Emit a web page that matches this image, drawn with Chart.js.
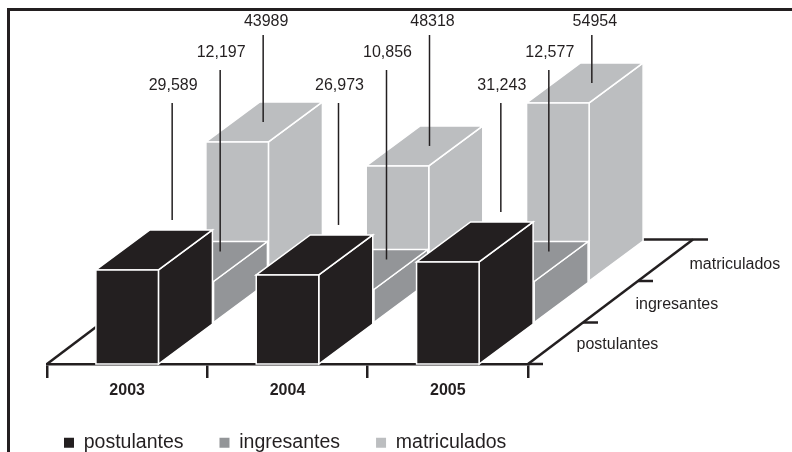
<!DOCTYPE html>
<html>
<head>
<meta charset="utf-8">
<style>
  html, body { margin: 0; padding: 0; background: #fff; }
  #marco { position: absolute; left: 7px; top: 8px; width: 785px; height: 444px; box-sizing: border-box;
           border-left: 3px solid #231f20; border-top: 3px solid #231f20; }
  canvas { position: absolute; left: 0; top: 0; }
</style>
<script src="https://cdn.jsdelivr.net/npm/chart.js@4"></script>
</head>
<body>
<div id="marco"></div>
<canvas id="grafico" width="792" height="452"></canvas>
<script>
//---------------Data-------------------------

const years = ["2003", "2004", "2005"];
const seriesNames = ["postulantes", "ingresantes", "matriculados"];

// bar heights as measured on the picture (the 2004 matriculados bar is drawn lower than its printed label)
const postulantes = [29140, 27590, 31620];
const ingresantes = [12710, 10230, 12710];
const matriculados = [43090, 35650, 55180];

// numbers as printed above the bars
const postulantesText = ["29,589", "26,973", "31,243"];
const ingresantesText = ["12,197", "10,856", "12,577"];
const matriculadosText = ["43989", "48318", "54954"];

//---------------Style-------------------------

const DARK = "#231f20";
const colors = [DARK, "#939598", "#bcbec0"];
const FONT = "'Liberation Sans', Arial, sans-serif";

// one row of depth on the floor, and the depth of a box
const ROW_DX = 55, ROW_DY = 41.5;
const BOX_DX = 54, BOX_DY = 40;

// leader lines
const leaderTop = [103, 70, 35];
const leaderEnd = [-30, -10, 0];
const leaderRowShift = [18, 11, -1];
const leaderColShift = [0, 6, 8];
const textY = [86, 53, 22];
const textShift = [1, 1, 3];

// row names on the right of the floor
const rowNameDx = [21, 25, 24];
const rowNameDy = [1, 3, 4];

//---------------Drawing-------------------------

function poly(ctx, pts, fill) {
    ctx.beginPath();
    ctx.moveTo(pts[0][0], pts[0][1]);
    for (var i = 1; i < pts.length; i++) ctx.lineTo(pts[i][0], pts[i][1]);
    ctx.closePath();
    ctx.fillStyle = fill;
    ctx.fill();
    ctx.strokeStyle = "#fff";
    ctx.lineWidth = 1.5;
    ctx.stroke();
}

function seg(ctx, x1, y1, x2, y2, width) {
    ctx.beginPath();
    ctx.moveTo(x1, y1);
    ctx.lineTo(x2, y2);
    ctx.lineWidth = width;
    ctx.strokeStyle = DARK;
    ctx.stroke();
}

// box of one bar, pushed back by its row
function box(ctx, bar, row, fill) {
    const props = bar.getProps(["x", "y", "base", "width"], true);
    const left = props.x - props.width / 2 + row * ROW_DX;
    const right = left + props.width;
    const top = props.y - row * ROW_DY;
    const bottom = props.base - row * ROW_DY;
    poly(ctx, [[right, top], [right + BOX_DX, top - BOX_DY], [right + BOX_DX, bottom - BOX_DY], [right, bottom]], fill);
    poly(ctx, [[left, top], [left + BOX_DX, top - BOX_DY], [right + BOX_DX, top - BOX_DY], [right, top]], fill);
    poly(ctx, [[left, top], [right, top], [right, bottom], [left, bottom]], fill);
    return {x: (left + right + BOX_DX) / 2, y: top - BOX_DY / 2};
}

function floor(chart) {
    const ctx = chart.ctx;
    const a = chart.chartArea;
    const rows = seriesNames.length;
    ctx.save();
    ctx.lineCap = "butt";
    seg(ctx, a.left, a.bottom, a.left + rows * ROW_DX, a.bottom - rows * ROW_DY, 2.5);
    seg(ctx, a.left + rows * ROW_DX, a.bottom - rows * ROW_DY, a.right + rows * ROW_DX, a.bottom - rows * ROW_DY, 2.5);
    seg(ctx, a.right, a.bottom, a.right + rows * ROW_DX, a.bottom - rows * ROW_DY, 2.5);
    ctx.font = "16px " + FONT;
    ctx.fillStyle = DARK;
    ctx.textAlign = "left";
    ctx.textBaseline = "middle";
    for (var k = 0; k < rows; k++) {
        var x = a.right + k * ROW_DX, y = a.bottom - k * ROW_DY;
        if (k == 0) seg(ctx, x, y, x + 15, y, 2.5);
        seg(ctx, x + ROW_DX, y - ROW_DY, x + ROW_DX + 15, y - ROW_DY, 2.5);
        ctx.fillText(seriesNames[k], x + ROW_DX / 2 + rowNameDx[k], y - ROW_DY / 2 + rowNameDy[k]);
    }
    ctx.restore();
}

const bars3d = {
    id: "bars3d",
    beforeDatasetDraw() {
        return false; // boxes are drawn below, not the flat bars
    },
    afterDatasetsDraw(chart) {
        const ctx = chart.ctx;
        const texts = [postulantesText, ingresantesText, matriculadosText];
        const centers = [[], [], []];
        floor(chart);
        ctx.save();
        for (var row = seriesNames.length - 1; row >= 0; row--) {
            var els = chart.getDatasetMeta(row).data;
            for (var i = 0; i < els.length; i++) {
                centers[row][i] = box(ctx, els[i], row, colors[row]);
            }
        }
        ctx.font = "16px " + FONT;
        ctx.fillStyle = DARK;
        ctx.textAlign = "center";
        ctx.textBaseline = "middle";
        for (var r = 0; r < texts.length; r++) {
            for (var c = 0; c < texts[r].length; c++) {
                var lx = centers[r][c].x + leaderRowShift[r] + leaderColShift[c];
                seg(ctx, lx, leaderTop[r], lx, centers[r][c].y + leaderEnd[r], 1.5);
                ctx.fillText(texts[r][c], lx + textShift[r], textY[r]);
            }
        }
        ctx.restore();
    }
};

new Chart(document.getElementById("grafico"), {
    type: "bar",
    data: {
        labels: years,
        datasets: [
            {label: seriesNames[0], data: postulantes, backgroundColor: colors[0]},
            {label: seriesNames[1], data: ingresantes, backgroundColor: colors[1]},
            {label: seriesNames[2], data: matriculados, backgroundColor: colors[2]}
        ]
    },
    plugins: [bars3d],
    options: {
        responsive: false,
        animation: false,
        layout: {padding: {left: 28, top: 9, right: 0, bottom: 0}},
        datasets: {bar: {grouped: false, categoryPercentage: 1, barPercentage: 0.39}},
        plugins: {
            tooltip: {enabled: false},
            legend: {
                position: "bottom",
                align: "start",
                maxHeight: 55,
                labels: {
                    boxWidth: 10,
                    boxHeight: 10,
                    padding: 36,
                    color: DARK,
                    font: {family: FONT, size: 19.5}
                }
            }
        },
        scales: {
            x: {
                border: {color: DARK, width: 2.5},
                grid: {drawOnChartArea: false, color: DARK, lineWidth: 2.5, tickLength: 14},
                ticks: {color: DARK, padding: 3, font: {family: FONT, size: 16, weight: "bold"}},
                afterFit(scale) { scale.height = 33; }
            },
            y: {
                min: 0,
                max: 110000,
                border: {display: false},
                grid: {display: false},
                ticks: {display: false},
                afterFit(scale) { scale.width = 19; }
            },
            // empty axis, only keeps room at the right for the depth of the floor
            yRight: {
                position: "right",
                border: {display: false},
                grid: {display: false},
                ticks: {display: false},
                afterFit(scale) { scale.width = 264; }
            }
        }
    }
});
</script>
</body>
</html>
